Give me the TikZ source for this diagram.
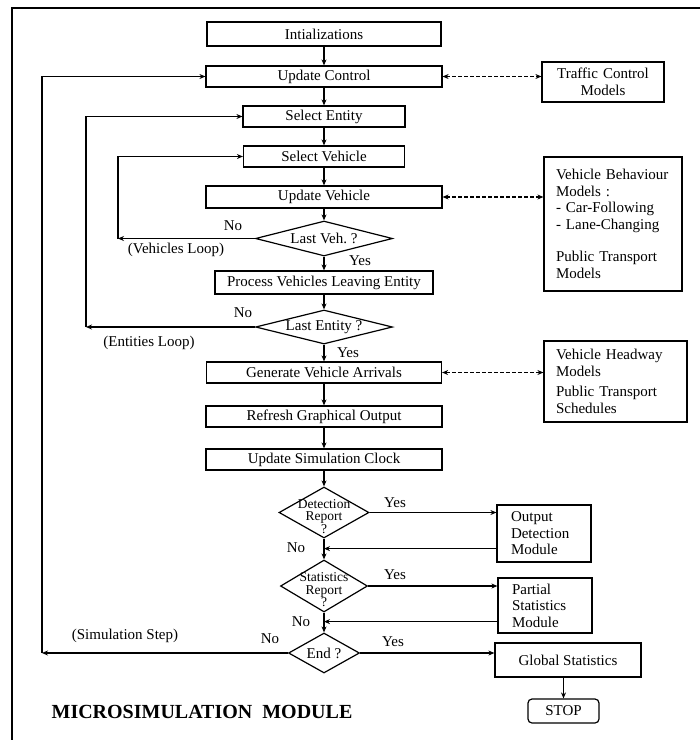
\documentclass[tikz,border=0pt]{standalone}
\usepackage{fontspec}
\setmainfont{Liberation Serif}
\usetikzlibrary{shapes.geometric,arrows.meta}

\begin{document}
\begin{tikzpicture}[x=1pt,y=-1pt,>={Stealth[length=6pt,width=5pt]},
  font=\fontsize{15}{16.5}\selectfont,
  box/.style={draw,line width=1.2pt,inner sep=1pt,minimum height=21pt},
  decision/.style={diamond,draw,line width=1.2pt,inner sep=0pt},
  sidebox/.style={draw,line width=1.2pt,align=left,inner xsep=12pt},
  flow/.style={->,line width=1.1pt},
  link/.style={<->,line width=1.1pt,dash pattern=on 4pt off 2pt}]
\useasboundingbox (0,0) rectangle (700,740);
% frame (cut at right and bottom)
\draw[line width=1.2pt] (12,740) -- (12,8) -- (700,8);
% main column
\node[box,minimum width=234pt,minimum height=24pt] (init) at (324,34) {Intializations};
\node[box,minimum width=236pt] (updctrl) at (324,76.5) {Update Control};
\node[box,minimum width=162pt] (selent) at (324,116.5) {Select Entity};
\node[box,minimum width=161pt] (selveh) at (324,156.5) {Select Vehicle};
\node[box,minimum width=236pt,minimum height=22pt] (updveh) at (324,197) {Update Vehicle};
\node[decision,minimum width=137pt,minimum height=35pt,label={center:Last Veh.\ ?}] (lastveh) at (324,238.5) {};
\node[box,minimum width=218pt,minimum height=23pt] (process) at (324,282.5) {Process Vehicles Leaving Entity};
\node[decision,minimum width=137pt,minimum height=34pt,label={center:Last Entity\ ?}] (lastent) at (324,327) {};
\node[box,minimum width=235pt] (genarr) at (324,372.5) {Generate Vehicle Arrivals};
\node[box,minimum width=236pt] (refresh) at (324,416.5) {Refresh Graphical Output};
\node[box,minimum width=236pt] (clock) at (324,459.5) {Update Simulation Clock};
\node[decision,minimum width=90pt,minimum height=51pt,
  label={[align=center,font=\fontsize{13.5}{12.5}\selectfont,yshift=-4pt]center:Detection\\Report\\?}] (detrep) at (324,512.5) {};
\node[decision,minimum width=87pt,minimum height=52pt,
  label={[align=center,font=\fontsize{13.5}{12.5}\selectfont,yshift=-4pt]center:Statistics\\Report\\?}] (statrep) at (324,586) {};
\node[decision,minimum width=71pt,minimum height=40pt,label={center:End\ ?}] (endq) at (324,653) {};
% side models
\node[sidebox,align=center,text width=98pt,minimum height=40pt] (tcm) at (603,82) {Traffic Control\\Models};
\node[sidebox,text width=114pt,minimum height=134pt] (vbm) at (613,224)
  {Vehicle Behaviour\\Models :\\- Car-Following\\- Lane-Changing\\[16pt]Public Transport\\Models};
\node[sidebox,text width=119pt,minimum height=81pt] (vhm) at (615.5,381.5)
  {Vehicle Headway\\Models\\[4pt]Public Transport\\Schedules};
\node[sidebox,inner xsep=14pt,text width=66pt,minimum height=57pt] (odm) at (544,533.5) {Output\\Detection\\Module};
\node[sidebox,inner xsep=14pt,text width=66pt,minimum height=55pt] (psm) at (545,605.5) {Partial\\Statistics\\Module};
\node[box,minimum width=146pt,minimum height=34pt] (gstat) at (568,660) {Global Statistics};
\node[box,rounded corners=4pt,minimum width=71pt,minimum height=24pt] (stop) at (563.5,711) {STOP};
% labels
\node (noveh) at (233,226) {No};
\node (txtvehloop) at (176,250) {(Vehicles Loop)};
\node (yesveh) at (360,261) {Yes};
\node (noent) at (243,313) {No};
\node (txtentloop) at (149,343) {(Entities Loop)};
\node (yesent) at (348,353) {Yes};
\node (yesdet) at (395,503) {Yes};
\node (nodet) at (296,548) {No};
\node (yesstat) at (395,575) {Yes};
\node (nostat) at (301,622) {No};
\node (noend) at (270,639) {No};
\node (txtsimstep) at (125,636) {(Simulation Step)};
\node (yesend) at (393,642) {Yes};
\node[font=\fontsize{20}{22}\selectfont\bfseries] (title) at (202,712) {MICROSIMULATION\ \ MODULE};
% loop corners
\coordinate (vehc) at (118,238.5);
\coordinate (entc) at (86,327);
\coordinate (simc) at (42,653);
\coordinate (detret) at ([yshift=14pt]odm.south west);
\coordinate (statret) at ([yshift=12pt]psm.south west);
% main flow
\draw[flow] (init) -- (updctrl);
\draw[flow] (updctrl) -- (selent);
\draw[flow] (selent) -- (selveh);
\draw[flow] (selveh) -- (updveh);
\draw[flow] (updveh) -- (lastveh);
\draw[flow] (lastveh) -- (process);
\draw[flow] (process) -- (lastent);
\draw[flow] (lastent) -- (genarr);
\draw[flow] (genarr) -- (refresh);
\draw[flow] (refresh) -- (clock);
\draw[flow] (clock) -- (detrep);
\draw[flow] (detrep) -- (statrep);
\draw[flow] (statrep) -- (endq);
% loops back
\draw[flow] (lastveh.west) -- (vehc);
\draw[flow] (vehc) |- (selveh.west);
\draw[flow] (lastent.west) -- (entc);
\draw[flow] (entc) |- (selent.west);
\draw[flow] (endq.west) -- (simc);
\draw[flow] (simc) |- (updctrl.west);
% reports
\draw[flow] (detrep.east) -- (detrep.east -| odm.west);
\draw[flow] (detret) -- (detret -| detrep.south);
\draw[flow] (statrep.east) -- (statrep.east -| psm.west);
\draw[flow] (statret) -- (statret -| statrep.south);
\draw[flow] (endq.east) -- (endq.east -| gstat.west);
\draw[flow] (stop.north |- gstat.south) -- (stop.north);
% model links
\draw[link] (updctrl.east) -- (updctrl.east -| tcm.west);
\draw[link] (updveh.east) -- (updveh.east -| vbm.west);
\draw[link] (genarr.east) -- (genarr.east -| vhm.west);
\end{tikzpicture}
\end{document}
